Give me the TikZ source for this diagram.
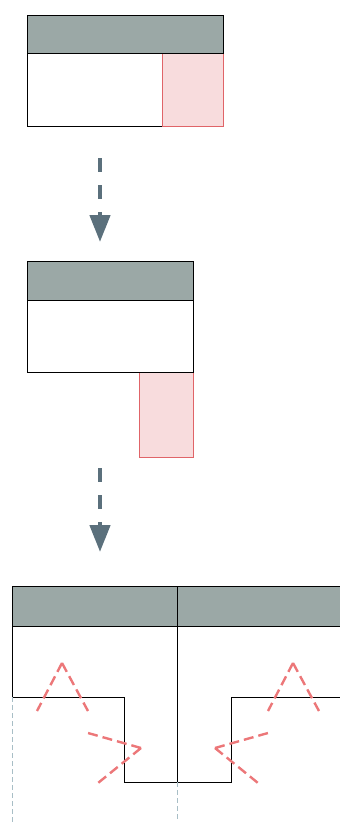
\documentclass[tikz,border=0pt]{standalone}
\usetikzlibrary{arrows.meta}
\definecolor{hdr}{HTML}{9BA8A6}
\definecolor{pinkfill}{HTML}{F8DCDD}
\definecolor{pinkline}{HTML}{E06468}
\definecolor{arrowc}{HTML}{5B707C}
\definecolor{reddash}{HTML}{EC7779}
\definecolor{bluedash}{HTML}{A8BEC6}
\tikzset{
  header/.style={draw=black, fill=hdr, line width=1pt},
  bodybox/.style={draw=black, fill=white, line width=1pt},
  pinkbox/.style={draw=pinkline, fill=pinkfill, line width=1pt},
  flowarrow/.style={draw=arrowc, line width=4.5pt, dash pattern=on 14pt off 13pt, -{Triangle[length=27pt,width=20pt]}},
  stress/.style={draw=reddash, line width=2.4pt, dash pattern=on 10pt off 5pt},
  guide/.style={draw=bluedash, line width=1pt, dash pattern=on 5pt off 3pt},
  wall/.style={draw=black, line width=1pt}
}
\begin{document}
\begin{tikzpicture}[x=1pt,y=-1pt]
\useasboundingbox (0,0) rectangle (340,822);
% stage 1
\draw[bodybox] (27,53) rectangle (223,126);
\draw[pinkbox] (162,53) rectangle (223,126);
\draw[header] (27,15) rectangle (223,53);
\coordinate (a1s) at (100,158);
\coordinate (a1e) at (100,242);
\draw[flowarrow] (a1s) -- (a1e);
% stage 2
\draw[pinkbox] (139,372) rectangle (193,457);
\draw[bodybox] (27,300) rectangle (193,372);
\draw[header] (27,261) rectangle (193,300);
\coordinate (a2s) at (100,468);
\coordinate (a2e) at (100,552);
\draw[flowarrow] (a2s) -- (a2e);
% stage 3
\draw[header] (12,586) rectangle (345,626);
\draw[wall] (177,586) -- (177,626);
\draw[wall] (12,626) -- (12,697) -- (124,697) -- (124,782) -- (231,782) -- (231,697) -- (345,697);
\draw[wall] (177,626) -- (177,782);
\draw[guide] (12,697) -- (12,822);
\draw[guide] (177,782) -- (177,822);
% stress marks
\draw[stress] (62,663) -- (37,711) (62,663) -- (88,711);
\draw[stress] (293,663) -- (268,711) (293,663) -- (319,711);
\draw[stress] (141,748) -- (88,733) (141,748) -- (98,783);
\draw[stress] (215,748) -- (268,733) (215,748) -- (258,783);
\end{tikzpicture}
\end{document}
